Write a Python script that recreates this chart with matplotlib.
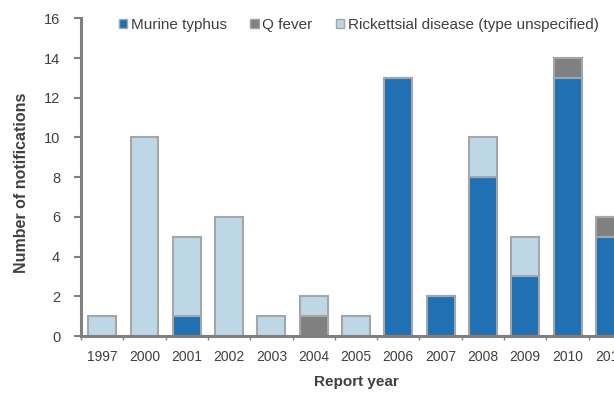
import matplotlib
matplotlib.use("Agg")
import matplotlib.pyplot as plt
import numpy as np
from matplotlib.patches import Patch

years = ["1997", "2000", "2001", "2002", "2003", "2004", "2005",
         "2006", "2007", "2008", "2009", "2010", "2011"]
murine = [0, 0, 1, 0, 0, 0, 0, 13, 2, 8, 3, 13, 5]
qfever = [0, 0, 0, 0, 0, 1, 0, 0, 0, 0, 0, 1, 1]
rickett = [1, 10, 4, 6, 1, 1, 1, 0, 0, 2, 2, 0, 0]

plt.rcParams['font.family'] = ['Liberation Sans', 'DejaVu Sans']

c_mur = "#2070b4"
c_q = "#808080"
c_r = "#bdd7e7"
edge = "#a6a6a6"
axc = "#808080"
txt = "#404040"

fig = plt.figure(figsize=(6.14, 4.03), dpi=100)
ax = fig.add_axes([81/614, 1-336/403, 550/614, (336-18.3)/403])

x = np.arange(len(years))
w = 0.66
m = np.array(murine); q = np.array(qfever); r = np.array(rickett)
kw = dict(width=w, edgecolor=edge, linewidth=1.5)
ax.bar(x, m, color=c_mur, **kw)
ax.bar(x, q, bottom=m, color=c_q, **kw)
ax.bar(x, r, bottom=m+q, color=c_r, **kw)

ax.set_xlim(-0.5, len(years)-0.5)
ax.set_ylim(0, 16)
ax.set_yticks(range(0, 17, 2))
ax.set_xticks(x)
ax.set_xticklabels(years)
ax.set_xticks(np.arange(-0.5, len(years), 1), minor=True)
ax.tick_params(axis='x', which='major', length=0, pad=10, labelsize=10, labelcolor=txt)
ax.tick_params(axis='x', which='minor', length=3, width=1, color=axc, direction='out')
ax.tick_params(axis='y', length=5, width=1.5, color=axc, labelsize=10.5, labelcolor=txt, pad=10)

for s in ['top', 'right']:
    ax.spines[s].set_visible(False)
for s in ['left', 'bottom']:
    ax.spines[s].set_color(axc)
    ax.spines[s].set_linewidth(2.2)

ax.set_xlabel("Report year", fontsize=11, fontweight='bold', color=txt, labelpad=8)
ax.set_ylabel("Number of notifications", fontsize=11.5, fontweight='bold', color=txt)
ax.yaxis.set_label_coords(-0.094, 0.483)

handles = [Patch(facecolor=c_mur, edgecolor=edge, linewidth=1),
           Patch(facecolor=c_q, edgecolor=edge, linewidth=1),
           Patch(facecolor=c_r, edgecolor=edge, linewidth=1)]
labels = ["Murine typhus", "Q fever", "Rickettsial disease (type unspecified)"]
leg = fig.legend(handles, labels, ncol=3, loc='upper left', bbox_to_anchor=(119/614, 1-18/403),
                 frameon=False, fontsize=11, handlelength=0.55, handleheight=0.55,
                 handletextpad=0.25, columnspacing=1.5, borderaxespad=0, borderpad=0)
for t in leg.get_texts():
    t.set_color(txt)

fig.savefig("out.png", dpi=100)
